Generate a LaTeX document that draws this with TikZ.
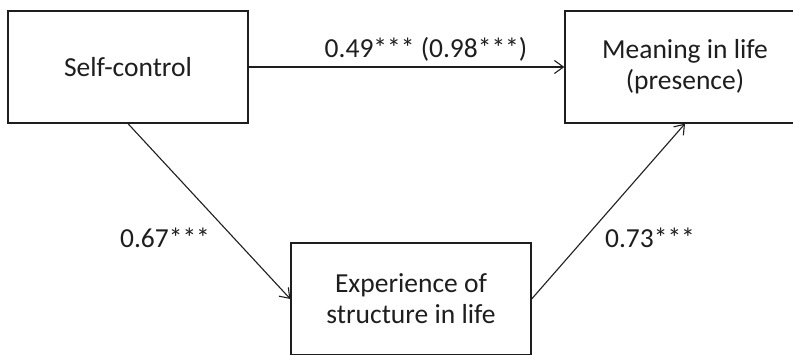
\documentclass[tikz,border=0pt]{standalone}
\usepackage{fontspec}
\setmainfont{Carlito}
\usetikzlibrary{arrows.meta}
\definecolor{ink}{HTML}{1E1E1E}
\tikzset{
  box/.style={draw=ink, line width=1.3pt, minimum width=240pt, minimum height=112pt,
    inner sep=0pt, align=center, text=ink, font=\fontsize{27.5}{31}\selectfont},
  conn/.style={draw=ink, line width=1.1pt, -{Straight Barb[length=9pt,width=13pt,line width=1.1pt]}},
  lbl/.style={text=ink, inner sep=0pt, font=\fontsize{27.5}{31}\selectfont}
}
\begin{document}
\begin{tikzpicture}[x=1pt,y=-1pt]
\useasboundingbox (0,0) rectangle (793,354);
\fill[white] (0,0) rectangle (793,354);
\clip (0,0) rectangle (793,354);
\node[box] (sc) at (128,67) {Self-control};
\node[box] (mean) at (685,67) {Meaning in life\\(presence)};
\node[box] (exp) at (411,299) {Experience of\\structure in life};
\draw[conn] (sc.east) -- (mean.west);
\draw[conn] (sc.south) -- (exp.west);
\draw[conn] (exp.east) -- (mean.south);
\node[lbl, anchor=base] (l1) at (426,57) {0.49*** (0.98***)};
\node[lbl, anchor=base] (l2) at (165,247) {0.67***};
\node[lbl, anchor=base] (l3) at (650,247) {0.73***};
\end{tikzpicture}
\end{document}
